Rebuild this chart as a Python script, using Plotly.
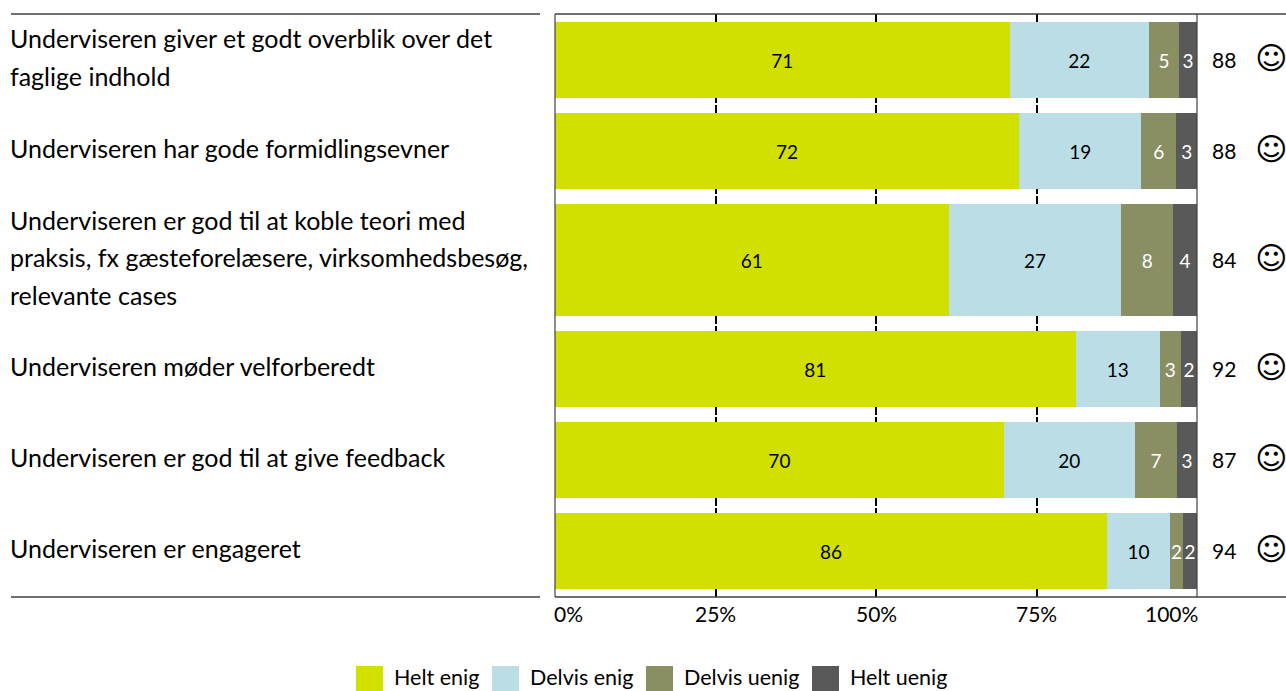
import plotly.graph_objects as go

questions = [
    ["Underviseren giver et godt overblik over det", "faglige indhold"],
    ["Underviseren har gode formidlingsevner"],
    ["Underviseren er god til at koble teori med", "praksis, fx gæsteforelæsere, virksomhedsbesøg,", "relevante cases"],
    ["Underviseren møder velforberedt"],
    ["Underviseren er god til at give feedback"],
    ["Underviseren er engageret"],
]
helt_enig = [70.8, 72.3, 61.3, 81.1, 69.9, 86.0]
delvis_enig = [21.7, 19.0, 26.9, 13.1, 20.4, 9.8]
delvis_uenig = [4.7, 5.5, 8.1, 3.3, 6.6, 2.0]
helt_uenig = [2.8, 3.2, 3.7, 2.5, 3.1, 2.2]
enig_labels = [71, 72, 61, 81, 70, 86]
delvis_enig_labels = [22, 19, 27, 13, 20, 10]
delvis_uenig_labels = [5, 6, 8, 3, 7, 2]
helt_uenig_labels = [3, 3, 4, 2, 3, 2]
scores = [88, 88, 84, 92, 87, 94]
x_ticks = [0, 25, 50, 75, 100]
x_tick_text = ["0%", "25%", "50%", "75%", "100%"]
series_names = ["Helt enig", "Delvis enig", "Delvis uenig", "Helt uenig"]
colors = ["#d2e000", "#bbdde6", "#8a8f63", "#595959"]
text_colors = ["#000000", "#000000", "#ffffff", "#ffffff"]

W, H = 1286, 691
L, R, T, B = 555.0, 1197.0, 14.0, 597.0
NUM_FONT = "Lato, sans-serif"
LABEL_FONT = "Lato, sans-serif"
LINE_H = 37.5


def px(x):
    return (x - L) / (R - L)


def py(y):
    return (B - y) / (B - T)


# vertical layout: bar heights and gaps in pixels of the plot area
bar_h = [112 if len(q) == 3 else 76 for q in questions]
gap = 15
centers, pos = [], 8
for h in bar_h:
    centers.append(pos + h / 2)
    pos += h + gap

fig = go.Figure()
series = [helt_enig, delvis_enig, delvis_uenig, helt_uenig]
labels = [enig_labels, delvis_enig_labels, delvis_uenig_labels, helt_uenig_labels]
for name, vals, lab, col, tc in zip(series_names, series, labels, colors, text_colors):
    fig.add_trace(go.Bar(
        y=centers, x=vals, width=bar_h, orientation="h", name=name,
        marker=dict(color=col, line=dict(width=0)),
        text=lab, textposition="inside", insidetextanchor="middle", textangle=0,
        insidetextfont=dict(family=NUM_FONT, size=19, color=tc),
        constraintext="none", showlegend=False,
    ))

ann, shapes = [], []
for q, c, s in zip(questions, centers, scores):
    n = len(q)
    for i, line in enumerate(q):
        ann.append(dict(xref="paper", yref="y", x=px(8), y=c - 3 + (i - (n - 1) / 2) * LINE_H,
                        text=line, showarrow=False, xanchor="left", yanchor="middle",
                        font=dict(family=LABEL_FONT, size=25, color="#000000")))
    ann.append(dict(xref="paper", yref="y", x=px(1223.5), y=c - 1, text=str(s), showarrow=False,
                    xanchor="center", yanchor="middle",
                    font=dict(family=NUM_FONT, size=21, color="#000000")))
    ann.append(dict(xref="paper", yref="y", x=px(1271), y=c - 2, text="\u263A", showarrow=False,
                    xanchor="center", yanchor="middle",
                    font=dict(family="DejaVu Sans", size=31, color="#000000")))

anchors = ["left", "center", "center", "center", "right"]
for v, t, a in zip(x_ticks, x_tick_text, anchors):
    ann.append(dict(xref="x", yref="paper", x=v, y=py(613), text=t, showarrow=False,
                    xanchor=a, yanchor="middle", xshift={"left": -3, "center": 0, "right": 3}[a],
                    font=dict(family=NUM_FONT, size=21, color="#000000")))

swatch_x = [356, 492, 646, 812]
legend_x = [393, 529, 683, 849]
for name, col, sx, lx in zip(series_names, colors, swatch_x, legend_x):
    shapes.append(dict(type="rect", xref="paper", yref="paper", x0=px(sx), x1=px(sx + 27),
                       y0=py(666), y1=py(691), fillcolor=col, line=dict(width=0)))
    ann.append(dict(xref="paper", yref="paper", x=px(lx), y=py(677), text=name, showarrow=False,
                    xanchor="left", yanchor="middle", borderpad=0,
                    font=dict(family=NUM_FONT, size=21.5, color="#000000")))

for yy in (T, B):
    for x0, x1 in ((11, 540), (555, 1286)):
        shapes.append(dict(type="line", xref="paper", yref="paper", x0=px(x0), x1=px(x1),
                           y0=py(yy), y1=py(yy), line=dict(color="#404040", width=1.5)))
for xx in (L, R):
    shapes.append(dict(type="line", xref="paper", yref="paper", x0=px(xx), x1=px(xx),
                       y0=0, y1=1, line=dict(color="#404040", width=1.2)))

fig.update_layout(
    barmode="stack", width=W, height=H, autosize=False,
    margin=dict(l=L, r=W - R, t=T, b=H - B, pad=0),
    paper_bgcolor="white", plot_bgcolor="white",
    annotations=ann, shapes=shapes, showlegend=False,
    xaxis=dict(range=[0, 100], tickvals=x_ticks[1:-1], showticklabels=False, ticks="",
               showgrid=True, gridcolor="#000000", gridwidth=2, griddash="11px,2px",
               zeroline=False, showline=False),
    yaxis=dict(range=[B - T, 0], showticklabels=False, ticks="", showgrid=False,
               zeroline=False, showline=False),
)

fig.write_html("out.html", config={"displayModeBar": False},
               post_script="document.body.style.margin='0';document.documentElement.style.overflow='hidden';")
